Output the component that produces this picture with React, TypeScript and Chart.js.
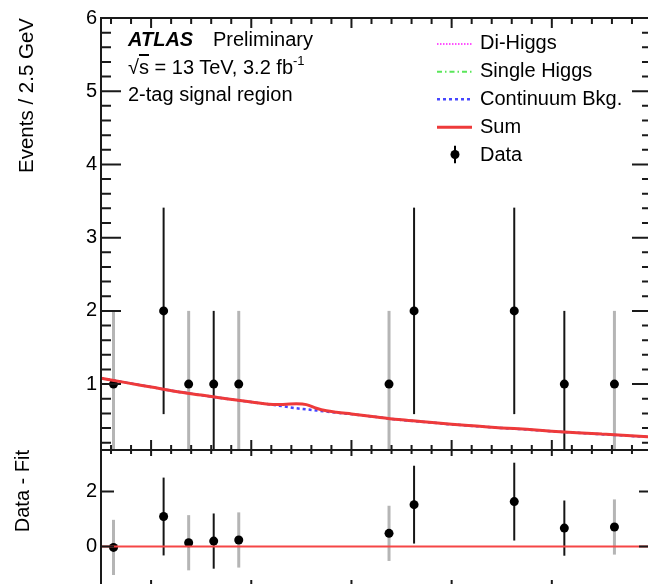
import React, { useEffect, useRef } from "react";
import { Chart, registerables } from "chart.js";

Chart.register(...registerables);

// ---------------- data ----------------
const dataMass = [106.25, 111.25, 113.75, 116.25, 118.75, 133.75, 136.25, 146.25, 151.25, 156.25];
const dataEvents = [1, 2, 1, 1, 1, 1, 2, 2, 1, 1];
const dataErrors = [1, 1.41, 1, 1, 1, 1, 1.41, 1.41, 1, 1];
const dataMinusFit = [-0.03, 1.09, 0.14, 0.2, 0.24, 0.48, 1.52, 1.63, 0.67, 0.71];

const curveMass = [105, 107.5, 110, 112.5, 115, 117.5, 120, 122.5, 123.5, 124.5, 125.5, 126.5, 127.5, 128.5, 130, 132.5, 135, 137.5, 140, 142.5, 145, 147.5, 150, 152.5, 155, 157.5, 160];
const continuumBkg = [1.08, 1.02, 0.96, 0.9, 0.85, 0.8, 0.755, 0.71, 0.69, 0.67, 0.655, 0.64, 0.625, 0.61, 0.59, 0.55, 0.51, 0.48, 0.45, 0.425, 0.4, 0.38, 0.355, 0.335, 0.315, 0.295, 0.275];
const singleHiggs = [0.001, 0.001, 0.001, 0.001, 0.002, 0.002, 0.003, 0.01, 0.035, 0.06, 0.065, 0.03, 0.01, 0.004, 0.002, 0.002, 0.001, 0.001, 0.001, 0.001, 0.001, 0.001, 0.001, 0.001, 0.001, 0.001, 0.001];
const diHiggs = [0.0004, 0.0004, 0.0004, 0.0004, 0.0004, 0.0005, 0.0006, 0.001, 0.002, 0.003, 0.003, 0.002, 0.001, 0.0006, 0.0005, 0.0004, 0.0004, 0.0004, 0.0004, 0.0004, 0.0004, 0.0004, 0.0004, 0.0004, 0.0004, 0.0004, 0.0004];
const sumFit = [1.08, 1.02, 0.96, 0.9, 0.85, 0.8, 0.757, 0.72, 0.725, 0.73, 0.72, 0.67, 0.635, 0.615, 0.592, 0.552, 0.512, 0.482, 0.452, 0.427, 0.402, 0.382, 0.357, 0.337, 0.317, 0.297, 0.277];

const fitZeroMass = [105, 160];
const fitZero = [0, 0];

const mainYTicks = [1, 2, 3, 4, 5, 6];
const ratioYTicks = [0, 2];
const xMajorTicks = [110, 120, 130, 140, 150];

// ---------------- style ----------------
const FONT = "'Liberation Sans', Arial, Helvetica, sans-serif";
const AXIS = "#1a1a1a";
const errShade = ["light", "dark", "light", "dark", "light", "light", "dark", "dark", "dark", "light"];

function pts(xs: number[], ys: number[]) {
  return xs.map((x, i) => ({ x, y: ys[i] }));
}

function makeErrorBars(xs: number[], ys: number[], errs: number[]) {
  return {
    id: "errorBars",
    beforeDatasetsDraw(chart: any) {
      const { ctx, chartArea: a, scales } = chart;
      ctx.save();
      ctx.beginPath();
      ctx.rect(a.left, a.top, a.right - a.left, a.bottom - a.top);
      ctx.clip();
      xs.forEach((m, i) => {
        const px = scales.x.getPixelForValue(m);
        const lo = scales.y.getPixelForValue(ys[i] - errs[i]);
        const hi = scales.y.getPixelForValue(ys[i] + errs[i]);
        const light = errShade[i] === "light";
        ctx.strokeStyle = light ? "#b5b5b5" : "#151515";
        ctx.lineWidth = light ? 3 : 2;
        ctx.beginPath();
        ctx.moveTo(px, lo);
        ctx.lineTo(px, hi);
        ctx.stroke();
      });
      ctx.restore();
    },
  };
}

function makeFrame(cfg: any) {
  return {
    id: "atlasFrame",
    afterDraw(chart: any) {
      const { ctx, chartArea: a, scales } = chart;
      const x = scales.x, y = scales.y;
      ctx.save();
      ctx.strokeStyle = AXIS;
      ctx.lineWidth = 2;
      ctx.strokeRect(a.left, a.top, a.right - a.left, a.bottom - a.top);
      ctx.beginPath();
      cfg.yMajor.forEach((v: number) => {
        const p = y.getPixelForValue(v);
        ctx.moveTo(a.left, p); ctx.lineTo(a.left + cfg.yMajLen, p);
        ctx.moveTo(a.right, p); ctx.lineTo(a.right - cfg.yMajLen, p);
      });
      if (cfg.yMinStep) {
        const k0 = Math.ceil(y.min / cfg.yMinStep - 1e-9);
        const k1 = Math.floor(y.max / cfg.yMinStep + 1e-9);
        for (let k = k0; k <= k1; k++) {
          const v = k * cfg.yMinStep;
          if (cfg.yMajor.some((m: number) => Math.abs(m - v) < 1e-6)) continue;
          const p = y.getPixelForValue(v);
          ctx.moveTo(a.left, p); ctx.lineTo(a.left + cfg.yMinLen, p);
          ctx.moveTo(a.right, p); ctx.lineTo(a.right - cfg.yMinLen, p);
        }
      }
      for (let v = 106; v < 160; v += 2) {
        const p = x.getPixelForValue(v);
        const major = xMajorTicks.includes(v);
        if (major || v % 10 !== 0) {
          const tl = major ? cfg.xTopMaj : cfg.xTopMin;
          const bl = major ? cfg.xBotMaj : cfg.xBotMin;
          ctx.moveTo(p, a.top); ctx.lineTo(p, a.top + tl);
          ctx.moveTo(p, a.bottom); ctx.lineTo(p, a.bottom - bl);
        }
      }
      ctx.stroke();
      ctx.restore();
    },
  };
}

const fixWidth = (s: any) => {
  s.width = 101;
  s.paddingTop = 0;
  s.paddingBottom = 0;
  s.paddingLeft = 0;
  s.paddingRight = 0;
};

export default function App() {
  const topRef = useRef<HTMLCanvasElement>(null);
  const botRef = useRef<HTMLCanvasElement>(null);

  useEffect(() => {
    Chart.defaults.font.family = FONT;
    const curve = (label: string, ys: number[], color: string, width: number, dash: number[], order: number) => ({
      label,
      data: pts(curveMass, ys),
      showLine: true,
      borderColor: color,
      borderWidth: width,
      borderDash: dash,
      pointRadius: 0,
      cubicInterpolationMode: "monotone",
      fill: false,
      order,
    });

    const top = new Chart(topRef.current as HTMLCanvasElement, {
      type: "scatter",
      data: {
        datasets: [
          curve("Sum", sumFit, "rgb(238,58,58)", 3, [], 0),
          curve("Continuum Bkg.", continuumBkg, "rgb(70,70,255)", 2.5, [3, 3], 1),
          curve("Single Higgs", singleHiggs, "rgb(90,230,90)", 2, [5, 3, 1.5, 3], 2),
          curve("Di-Higgs", diHiggs, "rgb(255,80,255)", 2, [1.5, 1.5], 3),
          {
            label: "Data",
            data: pts(dataMass, dataEvents),
            showLine: false,
            pointRadius: 4.5,
            pointBackgroundColor: "#000",
            pointBorderWidth: 0,
            order: 4,
          },
        ] as any,
      },
      options: {
        animation: false,
        responsive: false,
        maintainAspectRatio: false,
        layout: { autoPadding: false, padding: { top: 18, right: 8, bottom: 2, left: 0 } },
        plugins: { legend: { display: false }, tooltip: { enabled: false } },
        scales: {
          x: { type: "linear", min: 105, max: 160, display: false },
          y: {
            type: "linear",
            min: 0.1,
            max: 6,
            afterBuildTicks: (s: any) => { s.ticks = mainYTicks.map((v) => ({ value: v })); },
            afterFit: fixWidth,
            grid: { display: false, drawTicks: false },
            border: { display: false },
            ticks: { padding: 4, color: "#000", font: { size: 20 }, callback: (v: any) => String(v) },
            title: { display: true, text: "Events / 2.5 GeV", align: "end", color: "#000", font: { size: 20.5 }, padding: { top: 15, bottom: 0 } },
          },
        },
      } as any,
      plugins: [
        makeErrorBars(dataMass, dataEvents, dataErrors),
        makeFrame({ yMajor: mainYTicks, yMajLen: 20, yMinStep: 0.2, yMinLen: 10, xTopMaj: 10, xTopMin: 6, xBotMaj: 10, xBotMin: 5 }),
      ] as any,
    });

    const bot = new Chart(botRef.current as HTMLCanvasElement, {
      type: "scatter",
      data: {
        datasets: [
          {
            label: "Fit",
            data: pts(fitZeroMass, fitZero),
            showLine: true,
            borderColor: "rgb(245,70,70)",
            borderWidth: 2,
            pointRadius: 0,
            order: 0,
          },
          {
            label: "Data - Fit",
            data: pts(dataMass, dataMinusFit),
            showLine: false,
            pointRadius: 4.5,
            pointBackgroundColor: "#000",
            pointBorderWidth: 0,
            order: 1,
          },
        ] as any,
      },
      options: {
        animation: false,
        responsive: false,
        maintainAspectRatio: false,
        layout: { autoPadding: false, padding: { top: 10, right: 8, bottom: 12, left: 0 } },
        plugins: { legend: { display: false }, tooltip: { enabled: false } },
        scales: {
          x: { type: "linear", min: 105, max: 160, display: false },
          y: {
            type: "linear",
            min: -1.5,
            max: 3.5,
            afterBuildTicks: (s: any) => { s.ticks = ratioYTicks.map((v) => ({ value: v })); },
            afterFit: fixWidth,
            grid: { display: false, drawTicks: false },
            border: { display: false },
            ticks: { padding: 4, color: "#000", font: { size: 20 }, callback: (v: any) => String(v) },
            title: { display: true, text: "Data - Fit", align: "end", color: "#000", font: { size: 20 }, padding: { top: 11, bottom: 0 } },
          },
        },
      } as any,
      plugins: [
        makeErrorBars(dataMass, dataMinusFit, dataErrors),
        makeFrame({ yMajor: ratioYTicks, yMajLen: 13, yMinStep: 0, yMinLen: 0, xTopMaj: 6, xTopMin: 4, xBotMaj: 8, xBotMin: 4 }),
      ] as any,
    });

    return () => {
      top.destroy();
      bot.destroy();
    };
  }, []);

  const txt: React.CSSProperties = { position: "absolute", fontSize: 20, whiteSpace: "nowrap", color: "#000" };

  return (
    <div style={{ position: "fixed", left: 0, top: 0, width: 648, height: 584, overflow: "hidden", background: "#fff", fontFamily: FONT }}>
      <canvas ref={topRef} width={660} height={452} style={{ position: "absolute", left: 0, top: 0 }} />
      <canvas ref={botRef} width={660} height={160} style={{ position: "absolute", left: 0, top: 440 }} />

      <div style={{ ...txt, left: 128, top: 26, lineHeight: "27.5px" }}>
        <div>
          <span style={{ fontWeight: "bold", fontStyle: "italic", display: "inline-block", width: 85 }}>ATLAS</span>
          <span>Preliminary</span>
        </div>
        <div>
          <span>√</span>
          <span style={{ textDecoration: "overline" }}>s</span>
          <span> = 13 TeV, 3.2 fb</span>
          <sup style={{ fontSize: 13, lineHeight: 0, position: "relative", top: -1 }}>-1</sup>
        </div>
        <div>2-tag signal region</div>
      </div>

      <svg style={{ position: "absolute", left: 430, top: 30 }} width={45} height={140}>
        <line x1={7} x2={42} y1={14} y2={14} stroke="rgb(255,80,255)" strokeWidth={2} strokeDasharray="1.5 1.5" />
        <line x1={7} x2={42} y1={41.7} y2={41.7} stroke="rgb(90,230,90)" strokeWidth={2} strokeDasharray="5 3 1.5 3" />
        <line x1={7} x2={42} y1={69.3} y2={69.3} stroke="rgb(70,70,255)" strokeWidth={2.5} strokeDasharray="3 3" />
        <line x1={7} x2={42} y1={97.3} y2={97.3} stroke="rgb(238,58,58)" strokeWidth={3} />
        <line x1={25} x2={25} y1={115.7} y2={133.3} stroke="#000" strokeWidth={2} />
        <circle cx={25} cy={124.5} r={4.5} fill="#000" />
      </svg>

      <div style={{ ...txt, left: 480, top: 28, lineHeight: "28px" }}>
        <div>Di-Higgs</div>
        <div>Single Higgs</div>
        <div>Continuum Bkg.</div>
        <div>Sum</div>
        <div>Data</div>
      </div>
    </div>
  );
}
